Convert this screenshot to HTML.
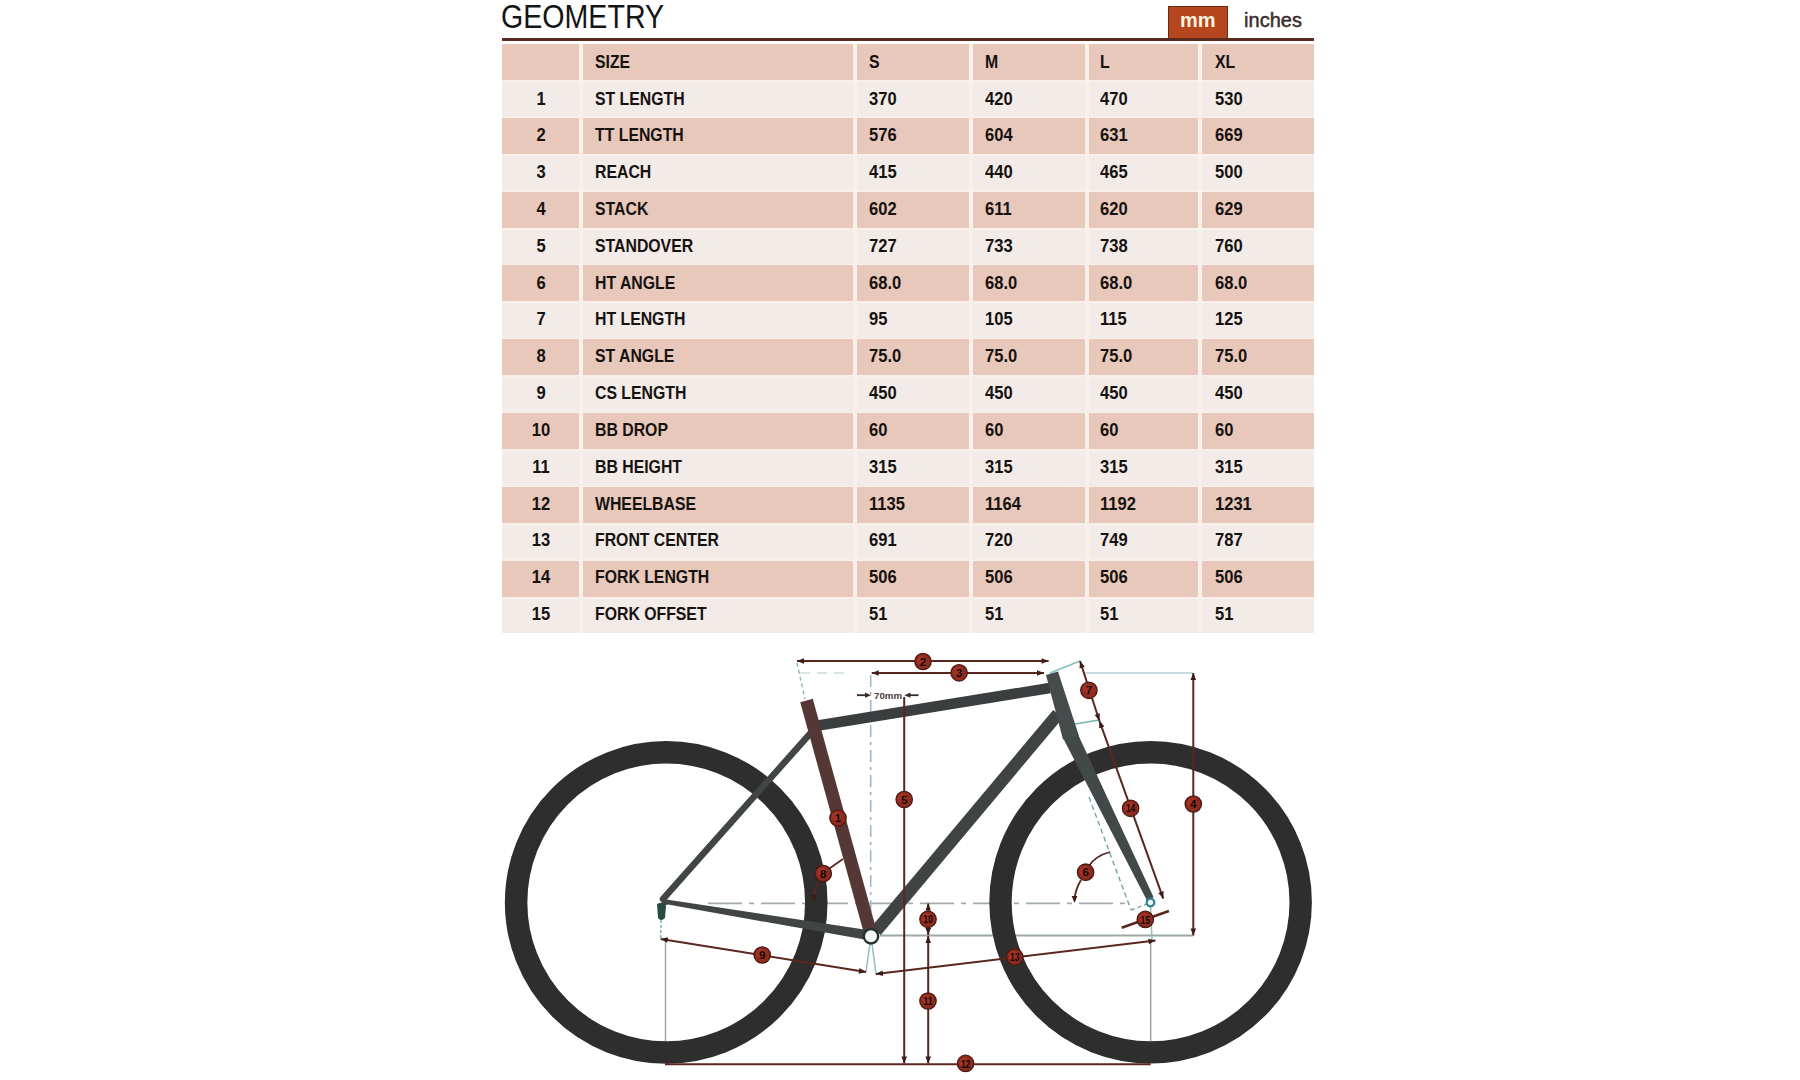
<!DOCTYPE html>
<html><head><meta charset="utf-8"><title>Geometry</title>
<style>
html,body{margin:0;padding:0;background:#ffffff;}
body{width:1800px;height:1080px;position:relative;overflow:hidden;font-family:"Liberation Sans",sans-serif;}
.c{position:absolute;}
.t{position:absolute;font-weight:bold;font-size:18.4px;line-height:normal;color:#161210;white-space:nowrap;transform:scaleX(0.86);transform-origin:0 0;}
.n{transform:scaleX(0.9);}
.tc{width:80px;text-align:center;transform-origin:40px 0;}
.title{position:absolute;left:501px;top:-3.1px;font-size:33.8px;line-height:normal;color:#151515;transform:scaleX(0.846);transform-origin:0 0;white-space:nowrap;}
.rule{position:absolute;left:501.5px;top:37.5px;width:812.7px;height:3px;background:#5a2a1f;}
.mm{position:absolute;left:1168.4px;top:5.8px;width:58px;height:32px;background:#b5461d;border:1px solid #6a2a14;border-bottom:none;}
.mmt{position:absolute;left:1180px;top:9.2px;font-size:20px;font-weight:bold;color:#fff3df;transform:scaleX(1.0);transform-origin:0 0;line-height:normal;}
.inch{position:absolute;left:1244.1px;top:9.4px;font-size:20px;letter-spacing:0px;-webkit-text-stroke:0.45px #3a2b2b;color:#3a2b2b;line-height:normal;}
.bike{position:absolute;left:0;top:0;}
</style></head><body>
<div class="title">GEOMETRY</div>
<div class="mm"></div><div class="mmt">mm</div>
<div class="inch">inches</div>
<div class="rule"></div>
<div class="tbl">
<div class="c" style="left:502px;top:43.5px;width:812px;height:589.2px;background:#f9f0eb"></div>
<div class="c" style="left:502.0px;top:43.9px;width:77.0px;height:36.1px;background:#e8c8ba"></div>
<div class="c" style="left:583.0px;top:43.9px;width:270.3px;height:36.1px;background:#e8c8ba"></div>
<div class="c" style="left:857.3px;top:43.9px;width:111.7px;height:36.1px;background:#e8c8ba"></div>
<div class="c" style="left:973.0px;top:43.9px;width:112.0px;height:36.1px;background:#e8c8ba"></div>
<div class="c" style="left:1088.8px;top:43.9px;width:109.2px;height:36.1px;background:#e8c8ba"></div>
<div class="c" style="left:1202.0px;top:43.9px;width:112.0px;height:36.1px;background:#e8c8ba"></div>
<div class="c" style="left:502.0px;top:82.0px;width:77.0px;height:34.6px;background:#f3ebe8"></div>
<div class="c" style="left:583.0px;top:82.0px;width:270.3px;height:34.6px;background:#f3ebe8"></div>
<div class="c" style="left:857.3px;top:82.0px;width:111.7px;height:34.6px;background:#f3ebe8"></div>
<div class="c" style="left:973.0px;top:82.0px;width:112.0px;height:34.6px;background:#f3ebe8"></div>
<div class="c" style="left:1088.8px;top:82.0px;width:109.2px;height:34.6px;background:#f3ebe8"></div>
<div class="c" style="left:1202.0px;top:82.0px;width:112.0px;height:34.6px;background:#f3ebe8"></div>
<div class="c" style="left:502.0px;top:117.7px;width:77.0px;height:36.1px;background:#e8c8ba"></div>
<div class="c" style="left:583.0px;top:117.7px;width:270.3px;height:36.1px;background:#e8c8ba"></div>
<div class="c" style="left:857.3px;top:117.7px;width:111.7px;height:36.1px;background:#e8c8ba"></div>
<div class="c" style="left:973.0px;top:117.7px;width:112.0px;height:36.1px;background:#e8c8ba"></div>
<div class="c" style="left:1088.8px;top:117.7px;width:109.2px;height:36.1px;background:#e8c8ba"></div>
<div class="c" style="left:1202.0px;top:117.7px;width:112.0px;height:36.1px;background:#e8c8ba"></div>
<div class="c" style="left:502.0px;top:155.8px;width:77.0px;height:34.6px;background:#f3ebe8"></div>
<div class="c" style="left:583.0px;top:155.8px;width:270.3px;height:34.6px;background:#f3ebe8"></div>
<div class="c" style="left:857.3px;top:155.8px;width:111.7px;height:34.6px;background:#f3ebe8"></div>
<div class="c" style="left:973.0px;top:155.8px;width:112.0px;height:34.6px;background:#f3ebe8"></div>
<div class="c" style="left:1088.8px;top:155.8px;width:109.2px;height:34.6px;background:#f3ebe8"></div>
<div class="c" style="left:1202.0px;top:155.8px;width:112.0px;height:34.6px;background:#f3ebe8"></div>
<div class="c" style="left:502.0px;top:191.5px;width:77.0px;height:36.1px;background:#e8c8ba"></div>
<div class="c" style="left:583.0px;top:191.5px;width:270.3px;height:36.1px;background:#e8c8ba"></div>
<div class="c" style="left:857.3px;top:191.5px;width:111.7px;height:36.1px;background:#e8c8ba"></div>
<div class="c" style="left:973.0px;top:191.5px;width:112.0px;height:36.1px;background:#e8c8ba"></div>
<div class="c" style="left:1088.8px;top:191.5px;width:109.2px;height:36.1px;background:#e8c8ba"></div>
<div class="c" style="left:1202.0px;top:191.5px;width:112.0px;height:36.1px;background:#e8c8ba"></div>
<div class="c" style="left:502.0px;top:229.6px;width:77.0px;height:34.6px;background:#f3ebe8"></div>
<div class="c" style="left:583.0px;top:229.6px;width:270.3px;height:34.6px;background:#f3ebe8"></div>
<div class="c" style="left:857.3px;top:229.6px;width:111.7px;height:34.6px;background:#f3ebe8"></div>
<div class="c" style="left:973.0px;top:229.6px;width:112.0px;height:34.6px;background:#f3ebe8"></div>
<div class="c" style="left:1088.8px;top:229.6px;width:109.2px;height:34.6px;background:#f3ebe8"></div>
<div class="c" style="left:1202.0px;top:229.6px;width:112.0px;height:34.6px;background:#f3ebe8"></div>
<div class="c" style="left:502.0px;top:265.3px;width:77.0px;height:36.1px;background:#e8c8ba"></div>
<div class="c" style="left:583.0px;top:265.3px;width:270.3px;height:36.1px;background:#e8c8ba"></div>
<div class="c" style="left:857.3px;top:265.3px;width:111.7px;height:36.1px;background:#e8c8ba"></div>
<div class="c" style="left:973.0px;top:265.3px;width:112.0px;height:36.1px;background:#e8c8ba"></div>
<div class="c" style="left:1088.8px;top:265.3px;width:109.2px;height:36.1px;background:#e8c8ba"></div>
<div class="c" style="left:1202.0px;top:265.3px;width:112.0px;height:36.1px;background:#e8c8ba"></div>
<div class="c" style="left:502.0px;top:303.4px;width:77.0px;height:34.6px;background:#f3ebe8"></div>
<div class="c" style="left:583.0px;top:303.4px;width:270.3px;height:34.6px;background:#f3ebe8"></div>
<div class="c" style="left:857.3px;top:303.4px;width:111.7px;height:34.6px;background:#f3ebe8"></div>
<div class="c" style="left:973.0px;top:303.4px;width:112.0px;height:34.6px;background:#f3ebe8"></div>
<div class="c" style="left:1088.8px;top:303.4px;width:109.2px;height:34.6px;background:#f3ebe8"></div>
<div class="c" style="left:1202.0px;top:303.4px;width:112.0px;height:34.6px;background:#f3ebe8"></div>
<div class="c" style="left:502.0px;top:339.1px;width:77.0px;height:36.1px;background:#e8c8ba"></div>
<div class="c" style="left:583.0px;top:339.1px;width:270.3px;height:36.1px;background:#e8c8ba"></div>
<div class="c" style="left:857.3px;top:339.1px;width:111.7px;height:36.1px;background:#e8c8ba"></div>
<div class="c" style="left:973.0px;top:339.1px;width:112.0px;height:36.1px;background:#e8c8ba"></div>
<div class="c" style="left:1088.8px;top:339.1px;width:109.2px;height:36.1px;background:#e8c8ba"></div>
<div class="c" style="left:1202.0px;top:339.1px;width:112.0px;height:36.1px;background:#e8c8ba"></div>
<div class="c" style="left:502.0px;top:377.2px;width:77.0px;height:34.6px;background:#f3ebe8"></div>
<div class="c" style="left:583.0px;top:377.2px;width:270.3px;height:34.6px;background:#f3ebe8"></div>
<div class="c" style="left:857.3px;top:377.2px;width:111.7px;height:34.6px;background:#f3ebe8"></div>
<div class="c" style="left:973.0px;top:377.2px;width:112.0px;height:34.6px;background:#f3ebe8"></div>
<div class="c" style="left:1088.8px;top:377.2px;width:109.2px;height:34.6px;background:#f3ebe8"></div>
<div class="c" style="left:1202.0px;top:377.2px;width:112.0px;height:34.6px;background:#f3ebe8"></div>
<div class="c" style="left:502.0px;top:412.9px;width:77.0px;height:36.1px;background:#e8c8ba"></div>
<div class="c" style="left:583.0px;top:412.9px;width:270.3px;height:36.1px;background:#e8c8ba"></div>
<div class="c" style="left:857.3px;top:412.9px;width:111.7px;height:36.1px;background:#e8c8ba"></div>
<div class="c" style="left:973.0px;top:412.9px;width:112.0px;height:36.1px;background:#e8c8ba"></div>
<div class="c" style="left:1088.8px;top:412.9px;width:109.2px;height:36.1px;background:#e8c8ba"></div>
<div class="c" style="left:1202.0px;top:412.9px;width:112.0px;height:36.1px;background:#e8c8ba"></div>
<div class="c" style="left:502.0px;top:451.0px;width:77.0px;height:34.6px;background:#f3ebe8"></div>
<div class="c" style="left:583.0px;top:451.0px;width:270.3px;height:34.6px;background:#f3ebe8"></div>
<div class="c" style="left:857.3px;top:451.0px;width:111.7px;height:34.6px;background:#f3ebe8"></div>
<div class="c" style="left:973.0px;top:451.0px;width:112.0px;height:34.6px;background:#f3ebe8"></div>
<div class="c" style="left:1088.8px;top:451.0px;width:109.2px;height:34.6px;background:#f3ebe8"></div>
<div class="c" style="left:1202.0px;top:451.0px;width:112.0px;height:34.6px;background:#f3ebe8"></div>
<div class="c" style="left:502.0px;top:486.7px;width:77.0px;height:36.1px;background:#e8c8ba"></div>
<div class="c" style="left:583.0px;top:486.7px;width:270.3px;height:36.1px;background:#e8c8ba"></div>
<div class="c" style="left:857.3px;top:486.7px;width:111.7px;height:36.1px;background:#e8c8ba"></div>
<div class="c" style="left:973.0px;top:486.7px;width:112.0px;height:36.1px;background:#e8c8ba"></div>
<div class="c" style="left:1088.8px;top:486.7px;width:109.2px;height:36.1px;background:#e8c8ba"></div>
<div class="c" style="left:1202.0px;top:486.7px;width:112.0px;height:36.1px;background:#e8c8ba"></div>
<div class="c" style="left:502.0px;top:524.8px;width:77.0px;height:34.6px;background:#f3ebe8"></div>
<div class="c" style="left:583.0px;top:524.8px;width:270.3px;height:34.6px;background:#f3ebe8"></div>
<div class="c" style="left:857.3px;top:524.8px;width:111.7px;height:34.6px;background:#f3ebe8"></div>
<div class="c" style="left:973.0px;top:524.8px;width:112.0px;height:34.6px;background:#f3ebe8"></div>
<div class="c" style="left:1088.8px;top:524.8px;width:109.2px;height:34.6px;background:#f3ebe8"></div>
<div class="c" style="left:1202.0px;top:524.8px;width:112.0px;height:34.6px;background:#f3ebe8"></div>
<div class="c" style="left:502.0px;top:560.5px;width:77.0px;height:36.1px;background:#e8c8ba"></div>
<div class="c" style="left:583.0px;top:560.5px;width:270.3px;height:36.1px;background:#e8c8ba"></div>
<div class="c" style="left:857.3px;top:560.5px;width:111.7px;height:36.1px;background:#e8c8ba"></div>
<div class="c" style="left:973.0px;top:560.5px;width:112.0px;height:36.1px;background:#e8c8ba"></div>
<div class="c" style="left:1088.8px;top:560.5px;width:109.2px;height:36.1px;background:#e8c8ba"></div>
<div class="c" style="left:1202.0px;top:560.5px;width:112.0px;height:36.1px;background:#e8c8ba"></div>
<div class="c" style="left:502.0px;top:598.6px;width:77.0px;height:34.6px;background:#f3ebe8"></div>
<div class="c" style="left:583.0px;top:598.6px;width:270.3px;height:34.6px;background:#f3ebe8"></div>
<div class="c" style="left:857.3px;top:598.6px;width:111.7px;height:34.6px;background:#f3ebe8"></div>
<div class="c" style="left:973.0px;top:598.6px;width:112.0px;height:34.6px;background:#f3ebe8"></div>
<div class="c" style="left:1088.8px;top:598.6px;width:109.2px;height:34.6px;background:#f3ebe8"></div>
<div class="c" style="left:1202.0px;top:598.6px;width:112.0px;height:34.6px;background:#f3ebe8"></div>
<div class="t" style="left:595.0px;top:50.7px">SIZE</div>
<div class="t" style="left:869.3px;top:50.7px">S</div>
<div class="t" style="left:985.0px;top:50.7px">M</div>
<div class="t" style="left:1100.0px;top:50.7px">L</div>
<div class="t" style="left:1215.0px;top:50.7px">XL</div>
<div class="t n tc" style="left:500.5px;top:87.6px">1</div>
<div class="t" style="left:595.0px;top:87.6px">ST LENGTH</div>
<div class="t n" style="left:869.3px;top:87.6px">370</div>
<div class="t n" style="left:985.0px;top:87.6px">420</div>
<div class="t n" style="left:1100.0px;top:87.6px">470</div>
<div class="t n" style="left:1215.0px;top:87.6px">530</div>
<div class="t n tc" style="left:500.5px;top:124.4px">2</div>
<div class="t" style="left:595.0px;top:124.4px">TT LENGTH</div>
<div class="t n" style="left:869.3px;top:124.4px">576</div>
<div class="t n" style="left:985.0px;top:124.4px">604</div>
<div class="t n" style="left:1100.0px;top:124.4px">631</div>
<div class="t n" style="left:1215.0px;top:124.4px">669</div>
<div class="t n tc" style="left:500.5px;top:161.2px">3</div>
<div class="t" style="left:595.0px;top:161.2px">REACH</div>
<div class="t n" style="left:869.3px;top:161.2px">415</div>
<div class="t n" style="left:985.0px;top:161.2px">440</div>
<div class="t n" style="left:1100.0px;top:161.2px">465</div>
<div class="t n" style="left:1215.0px;top:161.2px">500</div>
<div class="t n tc" style="left:500.5px;top:198.0px">4</div>
<div class="t" style="left:595.0px;top:198.0px">STACK</div>
<div class="t n" style="left:869.3px;top:198.0px">602</div>
<div class="t n" style="left:985.0px;top:198.0px">611</div>
<div class="t n" style="left:1100.0px;top:198.0px">620</div>
<div class="t n" style="left:1215.0px;top:198.0px">629</div>
<div class="t n tc" style="left:500.5px;top:234.8px">5</div>
<div class="t" style="left:595.0px;top:234.8px">STANDOVER</div>
<div class="t n" style="left:869.3px;top:234.8px">727</div>
<div class="t n" style="left:985.0px;top:234.8px">733</div>
<div class="t n" style="left:1100.0px;top:234.8px">738</div>
<div class="t n" style="left:1215.0px;top:234.8px">760</div>
<div class="t n tc" style="left:500.5px;top:271.6px">6</div>
<div class="t" style="left:595.0px;top:271.6px">HT ANGLE</div>
<div class="t n" style="left:869.3px;top:271.6px">68.0</div>
<div class="t n" style="left:985.0px;top:271.6px">68.0</div>
<div class="t n" style="left:1100.0px;top:271.6px">68.0</div>
<div class="t n" style="left:1215.0px;top:271.6px">68.0</div>
<div class="t n tc" style="left:500.5px;top:308.4px">7</div>
<div class="t" style="left:595.0px;top:308.4px">HT LENGTH</div>
<div class="t n" style="left:869.3px;top:308.4px">95</div>
<div class="t n" style="left:985.0px;top:308.4px">105</div>
<div class="t n" style="left:1100.0px;top:308.4px">115</div>
<div class="t n" style="left:1215.0px;top:308.4px">125</div>
<div class="t n tc" style="left:500.5px;top:345.2px">8</div>
<div class="t" style="left:595.0px;top:345.2px">ST ANGLE</div>
<div class="t n" style="left:869.3px;top:345.2px">75.0</div>
<div class="t n" style="left:985.0px;top:345.2px">75.0</div>
<div class="t n" style="left:1100.0px;top:345.2px">75.0</div>
<div class="t n" style="left:1215.0px;top:345.2px">75.0</div>
<div class="t n tc" style="left:500.5px;top:382.0px">9</div>
<div class="t" style="left:595.0px;top:382.0px">CS LENGTH</div>
<div class="t n" style="left:869.3px;top:382.0px">450</div>
<div class="t n" style="left:985.0px;top:382.0px">450</div>
<div class="t n" style="left:1100.0px;top:382.0px">450</div>
<div class="t n" style="left:1215.0px;top:382.0px">450</div>
<div class="t n tc" style="left:500.5px;top:418.8px">10</div>
<div class="t" style="left:595.0px;top:418.8px">BB DROP</div>
<div class="t n" style="left:869.3px;top:418.8px">60</div>
<div class="t n" style="left:985.0px;top:418.8px">60</div>
<div class="t n" style="left:1100.0px;top:418.8px">60</div>
<div class="t n" style="left:1215.0px;top:418.8px">60</div>
<div class="t n tc" style="left:500.5px;top:455.7px">11</div>
<div class="t" style="left:595.0px;top:455.7px">BB HEIGHT</div>
<div class="t n" style="left:869.3px;top:455.7px">315</div>
<div class="t n" style="left:985.0px;top:455.7px">315</div>
<div class="t n" style="left:1100.0px;top:455.7px">315</div>
<div class="t n" style="left:1215.0px;top:455.7px">315</div>
<div class="t n tc" style="left:500.5px;top:492.5px">12</div>
<div class="t" style="left:595.0px;top:492.5px">WHEELBASE</div>
<div class="t n" style="left:869.3px;top:492.5px">1135</div>
<div class="t n" style="left:985.0px;top:492.5px">1164</div>
<div class="t n" style="left:1100.0px;top:492.5px">1192</div>
<div class="t n" style="left:1215.0px;top:492.5px">1231</div>
<div class="t n tc" style="left:500.5px;top:529.3px">13</div>
<div class="t" style="left:595.0px;top:529.3px">FRONT CENTER</div>
<div class="t n" style="left:869.3px;top:529.3px">691</div>
<div class="t n" style="left:985.0px;top:529.3px">720</div>
<div class="t n" style="left:1100.0px;top:529.3px">749</div>
<div class="t n" style="left:1215.0px;top:529.3px">787</div>
<div class="t n tc" style="left:500.5px;top:566.1px">14</div>
<div class="t" style="left:595.0px;top:566.1px">FORK LENGTH</div>
<div class="t n" style="left:869.3px;top:566.1px">506</div>
<div class="t n" style="left:985.0px;top:566.1px">506</div>
<div class="t n" style="left:1100.0px;top:566.1px">506</div>
<div class="t n" style="left:1215.0px;top:566.1px">506</div>
<div class="t n tc" style="left:500.5px;top:602.9px">15</div>
<div class="t" style="left:595.0px;top:602.9px">FORK OFFSET</div>
<div class="t n" style="left:869.3px;top:602.9px">51</div>
<div class="t n" style="left:985.0px;top:602.9px">51</div>
<div class="t n" style="left:1100.0px;top:602.9px">51</div>
<div class="t n" style="left:1215.0px;top:602.9px">51</div>
</div>
<svg class="bike" width="1800" height="1080" viewBox="0 0 1800 1080"><line x1="708" y1="903.3" x2="1132" y2="903.3" stroke="#a3acac" stroke-width="1.7" stroke-dasharray="34 7 5 7"/>
<line x1="880" y1="935.5" x2="1193" y2="935.5" stroke="#9ea8a8" stroke-width="1.9" />
<line x1="800" y1="673" x2="845" y2="673" stroke="#c9dde0" stroke-width="1.6" stroke-dasharray="10 7"/>
<line x1="1084" y1="673" x2="1193" y2="673" stroke="#b3d0d6" stroke-width="1.6" />
<line x1="797" y1="663" x2="805" y2="699" stroke="#8fb8bb" stroke-width="1.4" stroke-dasharray="4 3"/>
<line x1="870.7" y1="675" x2="870.7" y2="928" stroke="#9fb9c9" stroke-width="1.6" stroke-dasharray="12 5 3 5"/>
<line x1="665.5" y1="940" x2="665.5" y2="1063" stroke="#97a3a3" stroke-width="1.4" />
<line x1="1150.7" y1="940" x2="1150.7" y2="1063" stroke="#97a3a3" stroke-width="1.4" />
<line x1="1089" y1="797" x2="1131" y2="910" stroke="#6fa6ac" stroke-width="1.4" stroke-dasharray="5 3.5"/>
<line x1="1131" y1="910" x2="1150" y2="903" stroke="#6fa6ac" stroke-width="1.4" stroke-dasharray="4 3"/>
<line x1="1050" y1="673" x2="1080" y2="661" stroke="#7fbfbf" stroke-width="1.5" />
<line x1="1075" y1="724" x2="1099" y2="720" stroke="#6fb3b3" stroke-width="1.7" />
<line x1="871" y1="936" x2="866" y2="972" stroke="#8fc0c0" stroke-width="1.5" />
<line x1="871" y1="936" x2="876" y2="974" stroke="#8fc0c0" stroke-width="1.5" />
<line x1="661" y1="920" x2="660.7" y2="938" stroke="#7fbaba" stroke-width="1.6" stroke-dasharray="3 2"/>
<line x1="1150.5" y1="906" x2="1152" y2="940" stroke="#8fc0c0" stroke-width="1.5" />
<circle cx="666.2" cy="902.4" r="150.1" fill="none" stroke="#2e2e2e" stroke-width="22.5"/>
<circle cx="1150.6" cy="902.3" r="150.1" fill="none" stroke="#2e2e2e" stroke-width="22.4"/>
<line x1="663" y1="899" x2="816" y2="727" stroke="#414545" stroke-width="6.5" stroke-linecap="round"/>
<polygon points="663,898 668,899.7 866,929.8 866,939.8 668,904.6 662,906" fill="#414545"/>
<line x1="876" y1="931" x2="1058" y2="714" stroke="#3f4343" stroke-width="12.5" />
<line x1="815" y1="726" x2="1050" y2="688" stroke="#3b3e3e" stroke-width="10.5" />
<line x1="806.5" y1="700.5" x2="871.5" y2="936.5" stroke="#553836" stroke-width="13" />
<polygon points="1046,675 1058,671.5 1079,736 1063,739.5" fill="#464b4b"/>
<polygon points="1063,738 1078.5,735.5 1153.5,897 1147.5,901.5" fill="#434848"/>
<path d="M 657 904 Q 664 900 666 906 L 665 918 Q 661 922 658 918 Z" fill="#2a4a44"/>
<circle cx="871" cy="936.3" r="7.2" fill="#f6f8f8" stroke="#243232" stroke-width="2.4"/>
<circle cx="1150.5" cy="902.5" r="3.8" fill="#f0f8f8" stroke="#2a7f90" stroke-width="2.2"/>
<line x1="797" y1="661" x2="1048.6" y2="661" stroke="#5a2720" stroke-width="2.0" />
<polygon points="797.0,661.0 804.0,658.2 804.0,663.8" fill="#3e1c16"/>
<polygon points="1048.6,661.0 1041.6,663.8 1041.6,658.2" fill="#3e1c16"/>
<line x1="871.7" y1="673" x2="1044" y2="673" stroke="#5a2720" stroke-width="2.0" />
<polygon points="871.7,673.0 878.7,670.2 878.7,675.8" fill="#3e1c16"/>
<polygon points="1044.0,673.0 1037.0,675.8 1037.0,670.2" fill="#3e1c16"/>
<line x1="904.2" y1="697" x2="904.2" y2="1063.5" stroke="#5a2720" stroke-width="2.0" />
<polygon points="904.2,1063.5 901.4,1056.5 907.0,1056.5" fill="#3e1c16"/>
<line x1="928.2" y1="903.5" x2="928.2" y2="935" stroke="#5a2720" stroke-width="2.0" />
<polygon points="928.2,903.5 931.0,910.5 925.4,910.5" fill="#3e1c16"/>
<polygon points="928.2,935.0 925.4,928.0 931.0,928.0" fill="#3e1c16"/>
<line x1="928.2" y1="936" x2="928.2" y2="1063.5" stroke="#5a2720" stroke-width="2.0" />
<polygon points="928.2,936.0 931.0,943.0 925.4,943.0" fill="#3e1c16"/>
<polygon points="928.2,1063.5 925.4,1056.5 931.0,1056.5" fill="#3e1c16"/>
<line x1="665" y1="1064.3" x2="1150.7" y2="1064.3" stroke="#5a2720" stroke-width="2.0" />
<line x1="660.7" y1="938.9" x2="866" y2="972" stroke="#5a2720" stroke-width="2.0" />
<polygon points="660.7,938.9 668.1,937.2 667.2,942.8" fill="#3e1c16"/>
<polygon points="866.0,972.0 858.6,973.7 859.5,968.1" fill="#3e1c16"/>
<line x1="875.9" y1="974" x2="1155.5" y2="940.6" stroke="#5a2720" stroke-width="2.0" />
<polygon points="875.9,974.0 882.5,970.4 883.2,975.9" fill="#3e1c16"/>
<polygon points="1155.5,940.6 1148.9,944.2 1148.2,938.7" fill="#3e1c16"/>
<line x1="1193.3" y1="673" x2="1193.3" y2="935.5" stroke="#5a2720" stroke-width="2.0" />
<polygon points="1193.3,673.0 1196.1,680.0 1190.5,680.0" fill="#3e1c16"/>
<polygon points="1193.3,935.5 1190.5,928.5 1196.1,928.5" fill="#3e1c16"/>
<line x1="1080" y1="661" x2="1099.4" y2="720.8" stroke="#5a2720" stroke-width="2.0" />
<polygon points="1080.0,661.0 1084.8,666.8 1079.5,668.5" fill="#3e1c16"/>
<polygon points="1099.4,720.8 1094.6,715.0 1099.9,713.3" fill="#3e1c16"/>
<line x1="1099.4" y1="720.8" x2="1163.3" y2="898.6" stroke="#5a2720" stroke-width="2.0" />
<polygon points="1099.4,720.8 1104.4,726.4 1099.1,728.3" fill="#3e1c16"/>
<polygon points="1163.3,898.6 1158.3,893.0 1163.6,891.1" fill="#3e1c16"/>
<line x1="1121.7" y1="927.8" x2="1168.9" y2="911.1" stroke="#5a2720" stroke-width="2.6" />
<line x1="823" y1="873" x2="843" y2="859" stroke="#5a2720" stroke-width="1.8" />
<path d="M 819 881 Q 813 890 815 899" fill="none" stroke="#5a2720" stroke-width="1.8"/>
<polygon points="815.0,902.0 810.9,895.7 816.4,894.6" fill="#3e1c16"/>
<path d="M 1110 852 Q 1095 856 1089 866 M 1081 880 Q 1075 890 1074.5 900" fill="none" stroke="#5a2720" stroke-width="1.8"/>
<polygon points="1074.5,903.0 1071.7,896.0 1077.3,896.0" fill="#3e1c16"/>
<line x1="857" y1="695.2" x2="868" y2="695.2" stroke="#3a2a26" stroke-width="1.8" />
<polygon points="871.0,695.2 865.0,697.8 865.0,692.6" fill="#3a2a26"/>
<line x1="907.4" y1="695.2" x2="918.5" y2="695.2" stroke="#3a2a26" stroke-width="1.8" />
<polygon points="904.4,695.2 910.4,692.6 910.4,697.8" fill="#3a2a26"/>
<text x="874" y="699" font-size="9.5" font-weight="bold" fill="#4a3a36" font-family="Liberation Sans, sans-serif" textLength="28" lengthAdjust="spacingAndGlyphs">70mm</text>
<circle cx="923" cy="661.5" r="8.2" fill="#8e2a1e" stroke="#4a1a12" stroke-width="1.3"/>
<circle cx="921.5" cy="660.0" r="4.699999999999999" fill="#b8412c" opacity="0.45"/>
<text x="0" y="0" transform="translate(923,665.6) scale(1,1)" font-size="11.5" text-anchor="middle" font-weight="bold" fill="#120806" font-family="Liberation Sans, sans-serif">2</text>
<circle cx="959.1" cy="672.8" r="8.2" fill="#8e2a1e" stroke="#4a1a12" stroke-width="1.3"/>
<circle cx="957.6" cy="671.3" r="4.699999999999999" fill="#b8412c" opacity="0.45"/>
<text x="0" y="0" transform="translate(959.1,676.9) scale(1,1)" font-size="11.5" text-anchor="middle" font-weight="bold" fill="#120806" font-family="Liberation Sans, sans-serif">3</text>
<circle cx="904.2" cy="799.5" r="8.2" fill="#8e2a1e" stroke="#4a1a12" stroke-width="1.3"/>
<circle cx="902.7" cy="798.0" r="4.699999999999999" fill="#b8412c" opacity="0.45"/>
<text x="0" y="0" transform="translate(904.2,803.6) scale(1,1)" font-size="11.5" text-anchor="middle" font-weight="bold" fill="#120806" font-family="Liberation Sans, sans-serif">5</text>
<circle cx="838" cy="818" r="8.2" fill="#8e2a1e" stroke="#4a1a12" stroke-width="1.3"/>
<circle cx="836.5" cy="816.5" r="4.699999999999999" fill="#b8412c" opacity="0.45"/>
<text x="0" y="0" transform="translate(838,822.1) scale(1,1)" font-size="11.5" text-anchor="middle" font-weight="bold" fill="#120806" font-family="Liberation Sans, sans-serif">1</text>
<circle cx="823.3" cy="873.5" r="8.2" fill="#8e2a1e" stroke="#4a1a12" stroke-width="1.3"/>
<circle cx="821.8" cy="872.0" r="4.699999999999999" fill="#b8412c" opacity="0.45"/>
<text x="0" y="0" transform="translate(823.3,877.6) scale(1,1)" font-size="11.5" text-anchor="middle" font-weight="bold" fill="#120806" font-family="Liberation Sans, sans-serif">8</text>
<circle cx="762.2" cy="955" r="8.2" fill="#8e2a1e" stroke="#4a1a12" stroke-width="1.3"/>
<circle cx="760.7" cy="953.5" r="4.699999999999999" fill="#b8412c" opacity="0.45"/>
<text x="0" y="0" transform="translate(762.2,959.1) scale(1,1)" font-size="11.5" text-anchor="middle" font-weight="bold" fill="#120806" font-family="Liberation Sans, sans-serif">9</text>
<circle cx="928" cy="919.3" r="8.2" fill="#8e2a1e" stroke="#4a1a12" stroke-width="1.3"/>
<circle cx="926.5" cy="917.8" r="4.699999999999999" fill="#b8412c" opacity="0.45"/>
<text x="0" y="0" transform="translate(928,923.4) scale(0.85,1)" font-size="10" text-anchor="middle" font-weight="bold" fill="#120806" font-family="Liberation Sans, sans-serif">10</text>
<circle cx="928" cy="1001" r="8.2" fill="#8e2a1e" stroke="#4a1a12" stroke-width="1.3"/>
<circle cx="926.5" cy="999.5" r="4.699999999999999" fill="#b8412c" opacity="0.45"/>
<text x="0" y="0" transform="translate(928,1005.1) scale(0.85,1)" font-size="10" text-anchor="middle" font-weight="bold" fill="#120806" font-family="Liberation Sans, sans-serif">11</text>
<circle cx="965.6" cy="1063.4" r="8.2" fill="#8e2a1e" stroke="#4a1a12" stroke-width="1.3"/>
<circle cx="964.1" cy="1061.9" r="4.699999999999999" fill="#b8412c" opacity="0.45"/>
<text x="0" y="0" transform="translate(965.6,1067.5) scale(0.85,1)" font-size="10" text-anchor="middle" font-weight="bold" fill="#120806" font-family="Liberation Sans, sans-serif">12</text>
<circle cx="1014.7" cy="957" r="8.2" fill="#8e2a1e" stroke="#4a1a12" stroke-width="1.3"/>
<circle cx="1013.2" cy="955.5" r="4.699999999999999" fill="#b8412c" opacity="0.45"/>
<text x="0" y="0" transform="translate(1014.7,961.1) scale(0.85,1)" font-size="10" text-anchor="middle" font-weight="bold" fill="#120806" font-family="Liberation Sans, sans-serif">13</text>
<circle cx="1088.9" cy="690.3" r="8.2" fill="#8e2a1e" stroke="#4a1a12" stroke-width="1.3"/>
<circle cx="1087.4" cy="688.8" r="4.699999999999999" fill="#b8412c" opacity="0.45"/>
<text x="0" y="0" transform="translate(1088.9,694.4) scale(1,1)" font-size="11.5" text-anchor="middle" font-weight="bold" fill="#120806" font-family="Liberation Sans, sans-serif">7</text>
<circle cx="1130.6" cy="808.3" r="8.2" fill="#8e2a1e" stroke="#4a1a12" stroke-width="1.3"/>
<circle cx="1129.1" cy="806.8" r="4.699999999999999" fill="#b8412c" opacity="0.45"/>
<text x="0" y="0" transform="translate(1130.6,812.4) scale(0.85,1)" font-size="10" text-anchor="middle" font-weight="bold" fill="#120806" font-family="Liberation Sans, sans-serif">14</text>
<circle cx="1193.3" cy="804" r="8.2" fill="#8e2a1e" stroke="#4a1a12" stroke-width="1.3"/>
<circle cx="1191.8" cy="802.5" r="4.699999999999999" fill="#b8412c" opacity="0.45"/>
<text x="0" y="0" transform="translate(1193.3,808.1) scale(1,1)" font-size="11.5" text-anchor="middle" font-weight="bold" fill="#120806" font-family="Liberation Sans, sans-serif">4</text>
<circle cx="1085.6" cy="872.2" r="8.2" fill="#8e2a1e" stroke="#4a1a12" stroke-width="1.3"/>
<circle cx="1084.1" cy="870.7" r="4.699999999999999" fill="#b8412c" opacity="0.45"/>
<text x="0" y="0" transform="translate(1085.6,876.3000000000001) scale(1,1)" font-size="11.5" text-anchor="middle" font-weight="bold" fill="#120806" font-family="Liberation Sans, sans-serif">6</text>
<circle cx="1145.3" cy="919.4" r="8.2" fill="#8e2a1e" stroke="#4a1a12" stroke-width="1.3"/>
<circle cx="1143.8" cy="917.9" r="4.699999999999999" fill="#b8412c" opacity="0.45"/>
<text x="0" y="0" transform="translate(1145.3,923.5) scale(0.85,1)" font-size="10" text-anchor="middle" font-weight="bold" fill="#120806" font-family="Liberation Sans, sans-serif">15</text></svg>
</body></html>
